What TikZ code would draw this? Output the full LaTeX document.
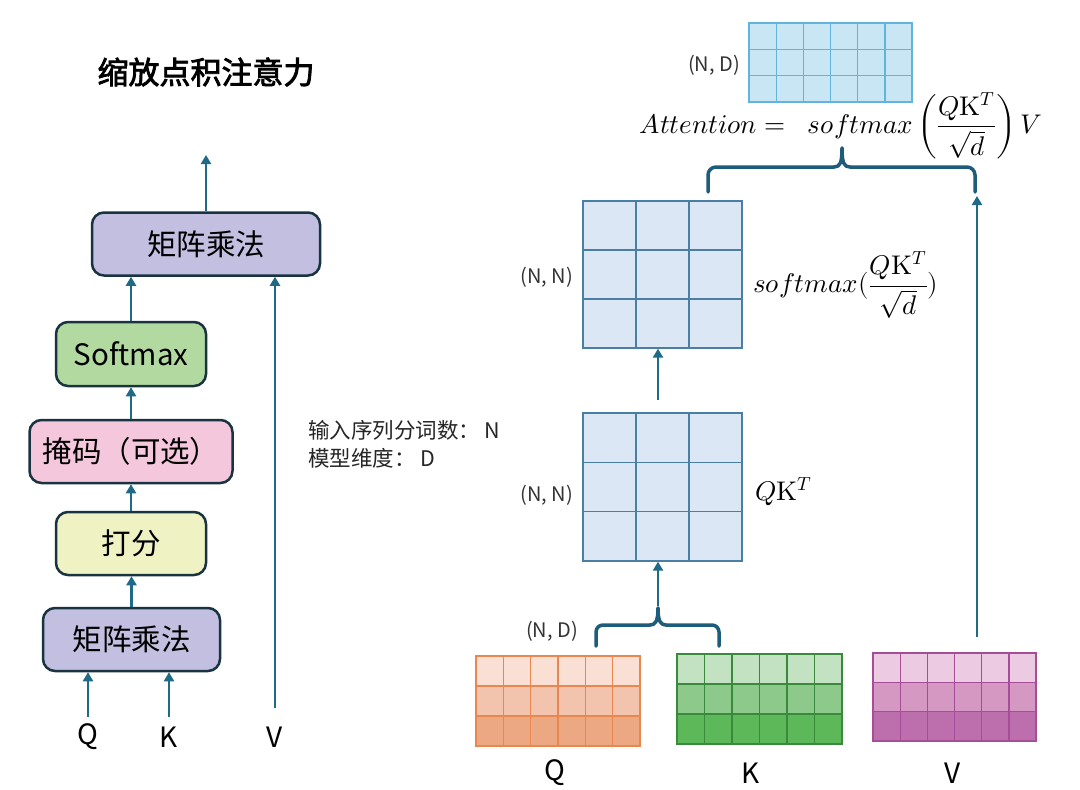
\documentclass[tikz,border=0pt]{standalone}
\usepackage{fontspec}
\usepackage{unicode-math}
\setmathfont{Latin Modern Math}
\setmainfont{Noto Sans CJK SC}
\newfontfamily\titlefont{Noto Sans CJK SC}[FakeBold=2.5]
\usetikzlibrary{arrows.meta}
\definecolor{boxline}{HTML}{1A3340}
\definecolor{lav}{HTML}{C3BFE0}
\definecolor{grn}{HTML}{B2DAA0}
\definecolor{pnk}{HTML}{F4C7DC}
\definecolor{ylw}{HTML}{EFF2C2}
\definecolor{arrowc}{HTML}{1E6A87}
\definecolor{bracec}{HTML}{1D5C7A}
\definecolor{outfill}{HTML}{C8E6F4}
\definecolor{outline}{HTML}{62B4DC}
\definecolor{smfill}{HTML}{DCE7F5}
\definecolor{smline}{HTML}{4A7FA3}
\definecolor{qa}{HTML}{FAE0D4}
\definecolor{qb}{HTML}{F2C4AE}
\definecolor{qc}{HTML}{ECA882}
\definecolor{qline}{HTML}{E8874F}
\definecolor{ka}{HTML}{C3E2C2}
\definecolor{kb}{HTML}{8DC98A}
\definecolor{kc}{HTML}{5DB85A}
\definecolor{kline}{HTML}{3A8A3E}
\definecolor{va}{HTML}{ECCBE2}
\definecolor{vb}{HTML}{D598C3}
\definecolor{vc}{HTML}{BC6FAC}
\definecolor{vline}{HTML}{A64D9A}
\begin{document}
\begin{tikzpicture}[x=1pt,y=-1pt,
  box/.style={draw=boxline, line width=2.5pt, rounded corners=12pt, text=black, inner sep=0pt, font=\fontsize{29.5}{34}\selectfont},
  arr/.style={draw=arrowc, line width=2.5pt, -{Triangle[width=10pt,length=9pt]}},
  brc/.style={draw=bracec, line width=3.5pt, line cap=round, line join=round},
  lbl/.style={font=\fontsize{28}{34}\selectfont, text=black, inner sep=0pt},
  dim/.style={font=\fontsize{20}{24}\selectfont, text=black!80, inner sep=0pt},
  note/.style={font=\fontsize{21.5}{26}\selectfont, text=black!85, anchor=west, inner sep=0pt},
  fml/.style={font=\fontsize{27}{32}\selectfont, inner sep=0pt},
  matb/.style={draw, line width=1.3pt, inner sep=0pt, minimum width=0pt}
]
\fill[white] (0,0) rectangle (1080,790);
\useasboundingbox (0,0) rectangle (1080,790);

% ---------- title ----------
\node[font=\titlefont\fontsize{31}{36}\selectfont, inner sep=0pt] (title) at (206,72) {缩放点积注意力};

% ---------- left flow ----------
\node[box, fill=lav, minimum width=228pt, minimum height=63pt] (mm2) at (206,244) {矩阵乘法};
\node[box, fill=grn, minimum width=150pt, minimum height=64pt] (sm) at (131,354) {Softmax};
\node[box, fill=pnk, minimum width=203pt, minimum height=63pt] (mask) at (131,451.5) {掩码（可选）};
\node[box, fill=ylw, minimum width=150pt, minimum height=63pt] (score) at (131,543.5) {打分};
\node[box, fill=lav, minimum width=177pt, minimum height=63pt] (mm1) at (131.5,639.5) {矩阵乘法};

\coordinate (outtop) at (206,155);
\coordinate (qin) at (88,717);
\coordinate (kin) at (169,717);
\coordinate (vin) at (275,708);

\draw[arr] (mm2.north) -- (outtop);
\draw[arr] (sm.north) -- (sm.north |- mm2.south);
\draw[arr] (mask.north) -- (mask.north |- sm.south);
\draw[arr] (score.north) -- (score.north |- mask.south);
\draw[arr] (mm1.north) -- (mm1.north |- score.south);
\draw[arr] (qin) -- (qin |- mm1.south);
\draw[arr] (kin) -- (kin |- mm1.south);
\draw[arr] (vin) -- (vin |- mm2.south);

\node[lbl] (lq) at (88,737) {Q};
\node[lbl] (lk) at (169,737) {K};
\node[lbl] (lv) at (275,737) {V};

% ---------- notes ----------
\node[note] (note1) at (308,430) {输入序列分词数： N};
\node[note] (note2) at (308,458) {模型维度： D};

% ---------- output matrix (N,D) ----------
\fill[outfill] (749,23) rectangle (912,102);
\foreach \i in {1,...,5} \draw[outline, line width=1.3pt] (749+\i*27.17,23) -- (749+\i*27.17,102);
\foreach \j in {1,2} \draw[outline, line width=1.3pt] (749,23+\j*26.33) -- (912,23+\j*26.33);
\node[matb, draw=outline, minimum width=163pt, minimum height=79pt] (outmat) at (830.5,62.5) {};
\node[dim, anchor=east] (dout) at (740,65) {(N, D)};

% ---------- formula ----------
\node[fml] (attn) at (841,126) {$\displaystyle Attention=\;\;softmax\left(\frac{Q\symup{K}^{T}}{\sqrt{d}}\right)V$};

% ---------- upper brace ----------
\draw[brc, rounded corners=8pt] (708,192) -- (708,167) -- (834,167);
\draw[brc] (834,167) .. controls (840,167) and (842,163) .. (842,148);
\draw[brc] (842,148) .. controls (842,163) and (844,167) .. (850,167);
\draw[brc, rounded corners=8pt] (850,167) -- (975,167) -- (975,192);

% ---------- softmax matrix (N,N) ----------
\fill[smfill] (583,201) rectangle (742,348);
\foreach \i in {1,2} \draw[smline, line width=1.3pt] (583+\i*53,201) -- (583+\i*53,348);
\foreach \j in {1,2} \draw[smline, line width=1.3pt] (583,201+\j*49) -- (742,201+\j*49);
\node[matb, draw=smline, minimum width=159pt, minimum height=147pt] (smmat) at (662.5,274.5) {};
\node[dim, anchor=east] (dsm) at (573,277) {(N, N)};
\node[fml, anchor=west] (smlbl) at (753,285) {$\displaystyle softmax(\frac{Q\symup{K}^{T}}{\sqrt{d}})$};

% ---------- QK^T matrix (N,N) ----------
\fill[smfill] (583,413) rectangle (742,561);
\foreach \i in {1,2} \draw[smline, line width=1.3pt] (583+\i*53,413) -- (583+\i*53,561);
\foreach \j in {1,2} \draw[smline, line width=1.3pt] (583,413+\j*49.33) -- (742,413+\j*49.33);
\node[matb, draw=smline, minimum width=159pt, minimum height=148pt] (qkmat) at (662.5,487) {};
\node[dim, anchor=east] (dqk) at (573,495) {(N, N)};
\node[fml, anchor=west] (qklbl) at (755,492) {$Q\symup{K}^{T}$};

\coordinate (midup) at (658,400);
\draw[arr] (midup) -- (midup |- smmat.south);

% ---------- lower brace ----------
\draw[brc, rounded corners=7pt] (596,646) -- (596,625) -- (650,625);
\draw[brc] (650,625) .. controls (655,625) and (658,622) .. (658,608);
\draw[brc] (658,608) .. controls (658,622) and (661,625) .. (666,625);
\draw[brc, rounded corners=7pt] (666,625) -- (719,625) -- (719,646);
\coordinate (btip) at (658,606);
\draw[arr] (btip) -- (btip |- qkmat.south);

% ---------- Q matrix ----------
\foreach \c [count=\r from 0] in {qa,qb,qc} \fill[\c] (476,656+\r*30) rectangle (640,686+\r*30);
\foreach \i in {1,...,5} \draw[qline, line width=1.3pt] (476+\i*27.33,656) -- (476+\i*27.33,746);
\foreach \j in {1,2} \draw[qline, line width=1.3pt] (476,656+\j*30) -- (640,656+\j*30);
\node[matb, draw=qline, minimum width=164pt, minimum height=90pt] (qmat) at (558,701) {};
\node[dim, anchor=east] (dq) at (578,631) {(N, D)};
\node[lbl] (lq2) at (555,773) {Q};

% ---------- K matrix ----------
\foreach \c [count=\r from 0] in {ka,kb,kc} \fill[\c] (677,654+\r*30) rectangle (842,684+\r*30);
\foreach \i in {1,...,5} \draw[kline, line width=1.3pt] (677+\i*27.5,654) -- (677+\i*27.5,744);
\foreach \j in {1,2} \draw[kline, line width=1.3pt] (677,654+\j*30) -- (842,654+\j*30);
\node[matb, draw=kline, minimum width=165pt, minimum height=90pt] (kmat) at (759.5,699) {};
\node[lbl] (lk2) at (751,773) {K};

% ---------- V matrix ----------
\foreach \c [count=\r from 0] in {va,vb,vc} \fill[\c] (873,653+\r*29.33) rectangle (1036,682.33+\r*29.33);
\foreach \i in {1,...,5} \draw[vline, line width=1.3pt] (873+\i*27.17,653) -- (873+\i*27.17,741);
\foreach \j in {1,2} \draw[vline, line width=1.3pt] (873,653+\j*29.33) -- (1036,653+\j*29.33);
\node[matb, draw=vline, minimum width=163pt, minimum height=88pt] (vmat) at (954.5,697) {};
\node[lbl] (lv2) at (953,773) {V};

\coordinate (vr) at (977,637);
\coordinate (vrtop) at (977,196);
\draw[arr] (vr) -- (vrtop);
\end{tikzpicture}
\end{document}
